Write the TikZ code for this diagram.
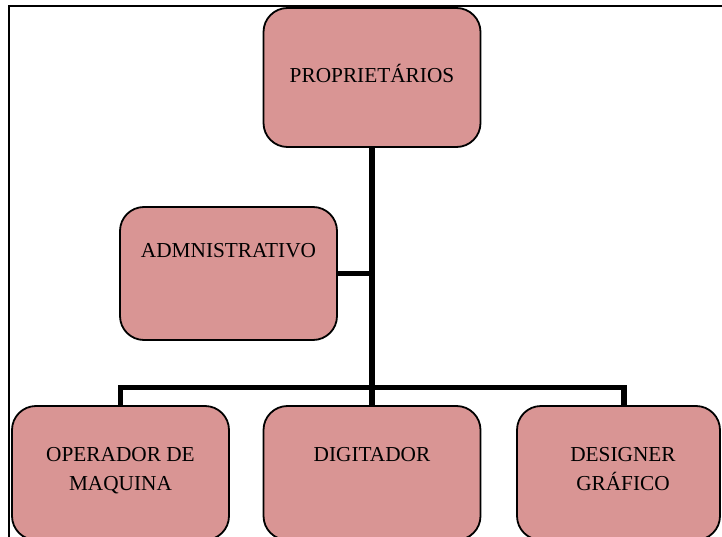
\documentclass[tikz,border=0pt]{standalone}
\usepackage{fontspec}
\setmainfont{Liberation Serif}
\definecolor{rosa}{HTML}{D99594}
\begin{document}
\begin{tikzpicture}[x=1pt,y=1pt,
  caixa/.style={draw, line width=1.8pt, fill=rosa, rounded corners=24pt, minimum width=217pt, inner sep=0pt},
  linha/.style={line width=5.5pt},
  rotulo/.style={font=\fontsize{21.3}{28.5}\selectfont, align=center, inner sep=0pt}]
  \useasboundingbox (0,0) rectangle (722,-537);
  \clip (0,0) rectangle (722,-537);
  \draw [line width=1.2pt] (9,-545)--(9,-6)--(730,-6);

  \node [caixa, minimum height=139pt] (prop) at (372,-77.5) {};
  \node [caixa, minimum height=133pt] (adm) at (228.5,-273.5) {};
  \node [caixa, minimum height=134pt] (oper) at (120.5,-473) {};
  \node [caixa, minimum height=134pt] (dig) at (372,-473) {};
  \node [caixa, minimum height=134pt, minimum width=203pt] (des) at (618.5,-473) {};
  \coordinate (barra) at (0,-387.5);

  \draw [linha] (prop.south)--(dig.north);
  \draw [linha] (adm.east)--(adm.east -| prop.south);
  \draw [linha] (oper.north)--(oper.north |- barra)--([xshift=5.5pt]des.north |- barra)--([xshift=5.5pt]des.north);

  \node [rotulo, anchor=base] (prop-txt) at (372,-83) {PROPRIETÁRIOS};
  \node [rotulo, anchor=base] (adm-txt) at (228.5,-258) {ADMNISTRATIVO};
  \node [rotulo, anchor=north] (oper-txt) at (120.5,-447.5) {OPERADOR DE\\MAQUINA};
  \node [rotulo, anchor=north] (dig-txt) at (372,-447.5) {DIGITADOR};
  \node [rotulo, anchor=north] (des-txt) at (623,-447.5) {DESIGNER\\GRÁFICO};

\end{tikzpicture}
\end{document}
